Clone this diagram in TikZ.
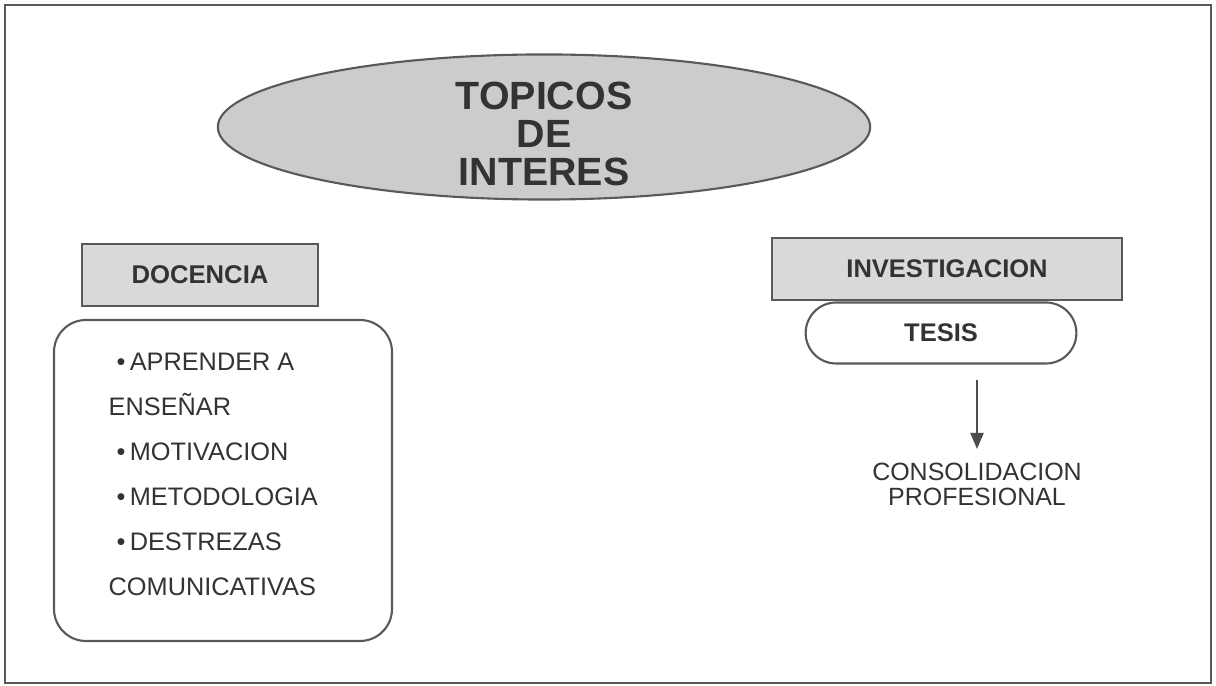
\documentclass[tikz,border=0pt]{standalone}
\usepackage{fontspec}
\setmainfont{Liberation Sans}
\usetikzlibrary{shapes.geometric,shapes.misc,arrows.meta}

\tikzset{
  ink/.style={draw=black!65, line width=0.6pt},
  greybox/.style={ink, fill=black!15, minimum height=0.62cm},
  item/.style={text=black!80, font=\fontsize{7.2}{12.8}\selectfont}
}

\begin{document}
\begin{tikzpicture}[x=0.01cm, y=-0.01cm]
\useasboundingbox (0,0) rectangle (1216,686);
\draw[ink] (5,5) rectangle (1211,683);
% top title
\node (topicos) [ink, ellipse, fill=black!20, inner sep=0pt, minimum width=6.52cm, minimum height=1.45cm]
  at (544,127) {};
\node (titulo) [align=center, text=black!80, font=\fontsize{11.2}{10.9}\selectfont\bfseries]
  at (544,134) {TOPICOS\\DE\\INTERES};
% left side
\node (docencia) [greybox, minimum width=2.35cm, text=black!80, font=\fontsize{7.3}{8}\selectfont\bfseries]
  at (200,275) {DOCENCIA};
\draw[ink, rounded corners=0.32cm] (54,320) rectangle (392,641);
\node (lista) [item, anchor=north west, align=left, inner sep=0pt] at (108,352)
  {\hspace*{0.08cm}\textbullet\,APRENDER A\\ENSEÑAR\\\hspace*{0.08cm}\textbullet\,MOTIVACION\\
   \hspace*{0.08cm}\textbullet\,METODOLOGIA\\\hspace*{0.08cm}\textbullet\,DESTREZAS\\COMUNICATIVAS};
% right side
\node (investigacion) [greybox, minimum width=3.5cm, text=black!80, font=\fontsize{7.25}{8}\selectfont\bfseries]
  at (947,269) {INVESTIGACION};
\node (tesis) [ink, rounded rectangle, fill=white, minimum width=2.94cm, minimum height=0.61cm,
  text=black!80, font=\fontsize{7.25}{8}\selectfont\bfseries] at (941,333) {TESIS};
\node (consol) [item, align=center, font=\fontsize{7.1}{7.1}\selectfont, inner sep=0pt]
  at (977,484) {CONSOLIDACION\\PROFESIONAL};
\draw[draw=black!70, line width=0.6pt, -{Triangle[length=0.16cm, width=0.13cm]},
  shorten <=0.15cm, shorten >=0.13cm] (tesis.south -| consol.north) -- (consol.north);
\end{tikzpicture}
\end{document}
